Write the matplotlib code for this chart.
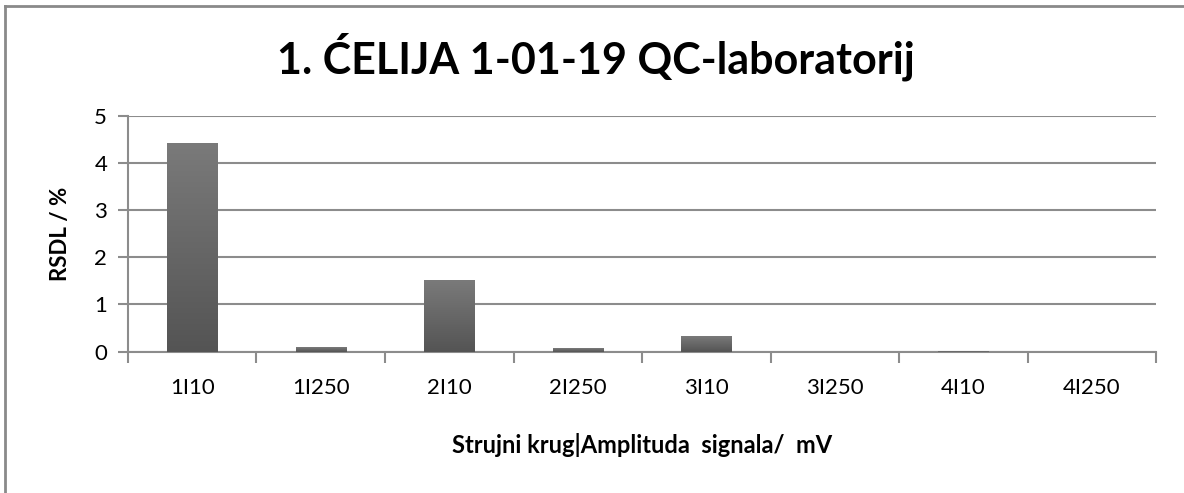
import numpy as np
import matplotlib.pyplot as plt
from matplotlib.colors import LinearSegmentedColormap
from matplotlib.lines import Line2D

# RSDL po strujnom krugu i amplitudi signala
categories = ['1I10', '1I250', '2I10', '2I250', '3I10', '3I250', '4I10', '4I250']
rsdl = [4.42, 0.10, 1.52, 0.07, 0.33, 0.0, 0.02, 0.0]

plt.rcParams['font.family'] = ['Lato', 'DejaVu Sans']

fig = plt.figure(figsize=(11.84, 4.93), dpi=100)
ax = fig.add_axes([0.1081, 0.287, 0.9764 - 0.1081, 0.7647 - 0.287])

grid_col = '#8c8c8c'
x = np.arange(len(categories))
bar_w = 0.39

# stupci s vertikalnim gradijentom
grad = np.linspace(0, 1, 256).reshape(-1, 1)
cmap = LinearSegmentedColormap.from_list('bar', ['#545454', '#7a7a7a'])
for xi, v in zip(x, rsdl):
    if v <= 0:
        continue
    ax.imshow(grad, cmap=cmap, extent=[xi - bar_w / 2, xi + bar_w / 2, 0, v],
              origin='lower', aspect='auto', zorder=3)
    ax.add_patch(plt.Rectangle((xi - bar_w / 2, 0), bar_w, v, fill=False,
                               edgecolor='#9a9a9a', lw=0.6, alpha=0.6, zorder=2))

ax.set_xlim(-0.5, len(categories) - 0.5)
ax.set_ylim(0, 5)
ax.set_yticks(range(0, 6))
ax.yaxis.grid(True, color=grid_col, lw=1.5)
ax.set_axisbelow(True)

ax.set_xticks(np.arange(-0.5, len(categories), 1))
ax.set_xticklabels([])
ax.set_xticks(x, minor=True)
ax.set_xticklabels(categories, minor=True)
ax.tick_params(axis='x', which='major', length=8, width=1.5, color=grid_col)
ax.tick_params(axis='x', which='minor', length=0, pad=19, labelsize=16)
ax.tick_params(axis='y', length=7, width=1.5, color=grid_col, labelsize=16, pad=8)

for s in ['top', 'right']:
    ax.spines[s].set_visible(False)
for s in ['left', 'bottom']:
    ax.spines[s].set_color(grid_col)
    ax.spines[s].set_linewidth(1.5)

ax.set_ylabel('RSDL / %', fontsize=16, fontweight='bold', labelpad=17)
ax.set_xlabel('Strujni krug|Amplituda  signala/  mV', fontsize=17,
              fontweight='bold', labelpad=25)

fig.text(0.503, 0.885, '1. ĆELIJA 1-01-19 QC-laboratorij', ha='center',
         va='center', fontsize=31, fontweight='bold')

# okvir grafikona
fig.add_artist(Line2D([5 / 1184, 5 / 1184], [0, 1 - 6 / 493], transform=fig.transFigure,
                      color='#8a8a8a', lw=2))
fig.add_artist(Line2D([5 / 1184, 1], [1 - 6 / 493, 1 - 6 / 493], transform=fig.transFigure,
                      color='#8a8a8a', lw=2))

fig.savefig('out.png', dpi=100)
